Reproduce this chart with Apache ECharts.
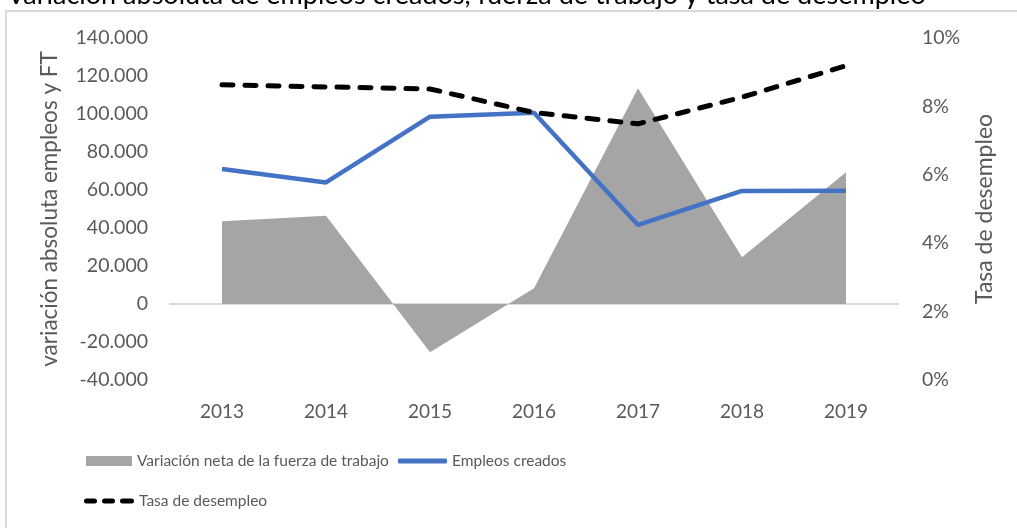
<!DOCTYPE html>
<html>
<head>
<meta charset="utf-8">
<script src="https://cdn.jsdelivr.net/npm/echarts@6/dist/echarts.min.js"></script>
<style>html,body{margin:0;padding:0;background:#fff}#c{width:1017px;height:528px}</style>
</head>
<body>
<div id="c"></div>
<script>
const years = ['2013','2014','2015','2016','2017','2018','2019'];
const fuerzaTrabajo = [43500, 46500, -25400, 8300, 113500, 24600, 69300];
const empleosCreados = [71000, 64000, 98600, 100700, 41600, 59500, 59600];
const tasaDesempleo = [8.63, 8.57, 8.51, 7.82, 7.49, 8.27, 9.19];
const leftTicks = {min: -40000, max: 140000, interval: 20000};
const rightTicks = {min: 0, max: 10, interval: 2};

const FONT = 'Lato';
const GRAY = '#595959';
const chart = echarts.init(document.getElementById('c'));
const fmtThousands = v => v === 0 ? '0' : (v < 0 ? '-' : '') + String(Math.abs(v)).replace(/\B(?=(\d{3})+(?!\d))/g, '.');
const legendText = {fontFamily: FONT, fontSize: 15.5, color: GRAY};
const dashIcon = 'path://M2.5,0h8a2.5,2.5 0 0 1 0,5h-8a2.5,2.5 0 0 1 0,-5z M20.5,0h8a2.5,2.5 0 0 1 0,5h-8a2.5,2.5 0 0 1 0,-5z M38.5,0h9a2.5,2.5 0 0 1 0,5h-9a2.5,2.5 0 0 1 0,-5z';

chart.setOption({
  animation: false,
  title: {
    text: 'Variación absoluta de empleos creados, fuerza de trabajo y tasa de desempleo',
    left: 2, top: -23,
    textStyle: {fontFamily: FONT, fontSize: 27, fontWeight: 'normal', color: '#000'}
  },
  graphic: [{
    type: 'rect', left: 5, top: 10, z: -10,
    shape: {width: 1100, height: 600},
    style: {fill: '#fff', stroke: '#d9d9d9', lineWidth: 2}
  }],
  grid: {left: 170, right: 119, top: 38, bottom: 148, containLabel: false},
  legend: [{
    left: 81, top: 448, itemWidth: 46, itemHeight: 10,
    textStyle: legendText,
    data: [{name: 'Variación neta de la fuerza de trabajo', icon: 'rect'}]
  }, {
    left: 393, top: 448, itemWidth: 49, itemHeight: 5,
    textStyle: legendText,
    data: [{name: 'Empleos creados', icon: 'roundRect'}]
  }, {
    left: 79, top: 488, itemWidth: 50, itemHeight: 5,
    textStyle: legendText,
    data: [{name: 'Tasa de desempleo', icon: dashIcon}]
  }],
  xAxis: {
    type: 'category', data: years, boundaryGap: true,
    axisLine: {show: true, onZero: true, onZeroAxisIndex: 0, lineStyle: {color: '#d9d9d9', width: 2}},
    axisTick: {show: false},
    axisLabel: {fontFamily: FONT, fontSize: 19, color: GRAY, margin: 22},
    splitLine: {show: false}
  },
  yAxis: [{
    type: 'value', min: leftTicks.min, max: leftTicks.max, interval: leftTicks.interval,
    name: 'variación absoluta empleos y FT', nameLocation: 'middle', nameGap: 109,
    nameTextStyle: {fontFamily: FONT, fontSize: 22.5, color: GRAY},
    axisLine: {show: false}, axisTick: {show: false}, splitLine: {show: false},
    axisLabel: {fontFamily: FONT, fontSize: 19.5, color: GRAY, margin: 22, formatter: fmtThousands}
  }, {
    type: 'value', min: rightTicks.min, max: rightTicks.max, interval: rightTicks.interval,
    name: 'Tasa de desempleo', nameLocation: 'middle', nameGap: 75,
    nameTextStyle: {fontFamily: FONT, fontSize: 23, color: GRAY},
    axisLine: {show: false}, axisTick: {show: false}, splitLine: {show: false},
    axisLabel: {fontFamily: FONT, fontSize: 19.5, color: GRAY, margin: 24, formatter: v => v + '%'}
  }],
  series: [{
    name: 'Variación neta de la fuerza de trabajo', type: 'line', data: fuerzaTrabajo,
    yAxisIndex: 0, symbol: 'none', z: 1,
    lineStyle: {width: 0, color: '#a5a5a5'}, itemStyle: {color: '#a5a5a5'},
    areaStyle: {color: '#a5a5a5', opacity: 1, origin: 0}
  }, {
    name: 'Empleos creados', type: 'line', data: empleosCreados,
    yAxisIndex: 0, symbol: 'none', z: 3,
    lineStyle: {width: 4.5, color: '#4472c4'}, itemStyle: {color: '#4472c4'}
  }, {
    name: 'Tasa de desempleo', type: 'line', data: tasaDesempleo,
    yAxisIndex: 1, symbol: 'none', z: 4,
    lineStyle: {width: 5, color: '#000', type: [11, 12], cap: 'round'}, itemStyle: {color: '#000'}
  }]
});
</script>
</body>
</html>
